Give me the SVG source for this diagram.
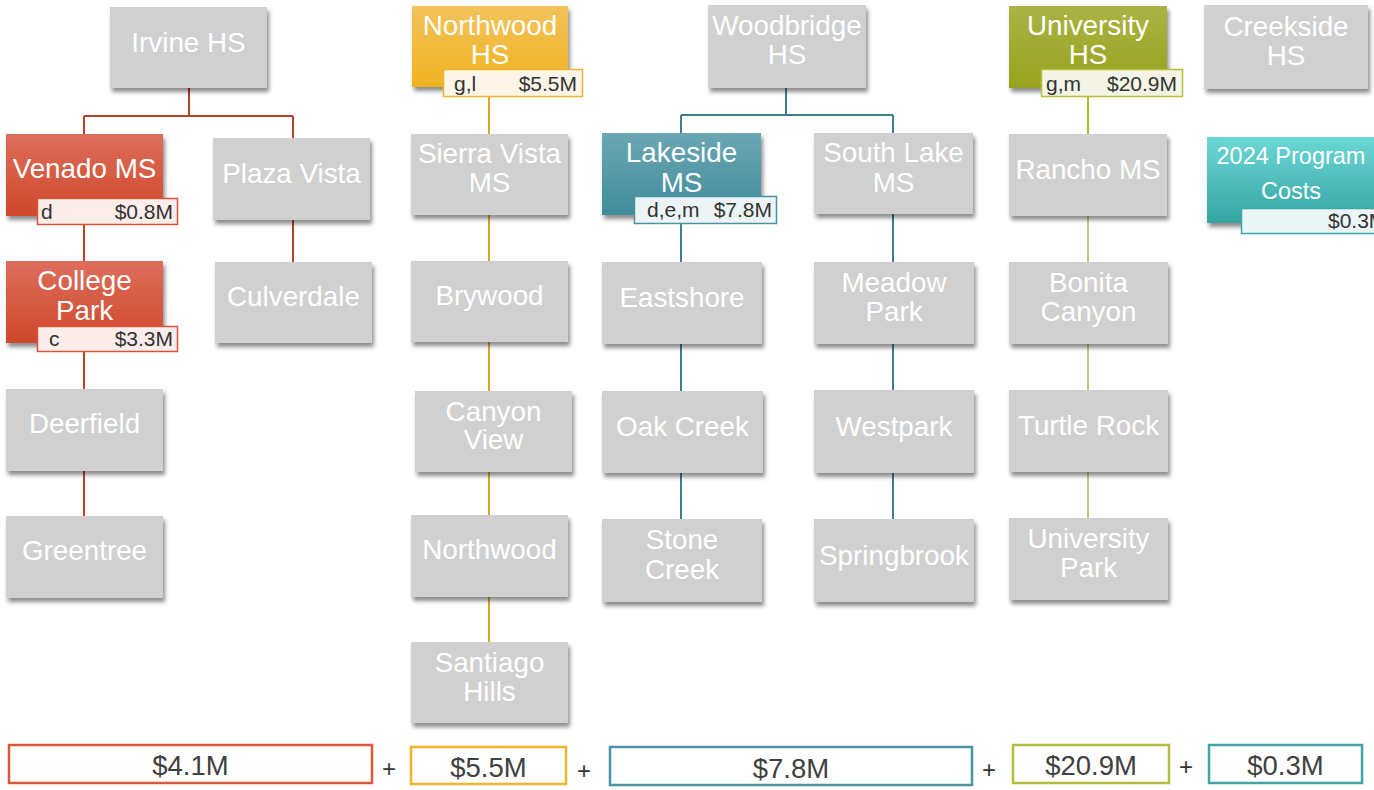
<svg xmlns="http://www.w3.org/2000/svg" width="1374" height="790" viewBox="0 0 1374 790">
<defs>
<filter id="sh" x="-10%" y="-10%" width="125%" height="135%">
<feDropShadow dx="2" dy="4" stdDeviation="2.2" flood-color="#000" flood-opacity="0.45"/>
</filter>
<linearGradient id="gRed" x1="0" y1="0" x2="0" y2="1"><stop offset="0" stop-color="#dd6e5b"/><stop offset="1" stop-color="#cf482b"/></linearGradient>
<linearGradient id="gYel" x1="0" y1="0" x2="0" y2="1"><stop offset="0" stop-color="#f3c25a"/><stop offset="1" stop-color="#f0b321"/></linearGradient>
<linearGradient id="gTeal" x1="0" y1="0" x2="0" y2="1"><stop offset="0" stop-color="#6ba6b3"/><stop offset="1" stop-color="#418c9b"/></linearGradient>
<linearGradient id="gOl" x1="0" y1="0" x2="0" y2="1"><stop offset="0" stop-color="#aab343"/><stop offset="1" stop-color="#97a21e"/></linearGradient>
<linearGradient id="gCy" x1="0" y1="0" x2="0" y2="1"><stop offset="0" stop-color="#6bd8d6"/><stop offset="1" stop-color="#35a4a3"/></linearGradient>
</defs>
<style>
.n{fill:#d0d0d0;filter:url(#sh)}
.t{font-family:"Liberation Sans",Arial,sans-serif;font-size:27.8px;fill:#fff;text-anchor:middle}
.tg{font-family:"Liberation Sans",Arial,sans-serif;font-size:21px;fill:#333}
.r{text-anchor:end}
.tot{font-family:"Liberation Sans",Arial,sans-serif;font-size:27.5px;fill:#404040;text-anchor:middle}
.pl{font-family:"Liberation Sans",Arial,sans-serif;font-size:24px;fill:#333;text-anchor:middle}
.c{fill:none;stroke-width:2}
.box{fill:#fff;stroke-width:2.5}
</style>
<g id="connectors">
<path class="c" stroke="#b5432b" d="M189 88V116M84 116H293M84 116V134M293 116V138M84 216V261M84 343V389M84 471V516M293 220V262"/>
<path class="c" stroke="#d9a62a" d="M489 97V134M489 215V261M489 342V391M489 472V515M489 597V642"/>
<path class="c" stroke="#3f7f8c" d="M786 88V115M681 115H893M681 115V133M893 115V133M681 224V262M681 344V391M681 473V519M893 214V262M893 344V390M893 473V519"/>
<path class="c" stroke="#aab636" d="M1088 97V134"/>
<path class="c" stroke="#c3c889" d="M1088 216V262M1088 344V390M1088 472V518"/>
</g>
<g id="irvine-hs"><rect class="n" x="110" y="7" width="157" height="81"/><text class="t" x="188.5" y="52">Irvine HS</text></g>
<g id="venado-ms"><rect class="n" style="fill:url(#gRed)" x="6" y="134" width="157" height="82"/><text class="t" x="84.5" y="178">Venado MS</text>
<rect x="37.5" y="198.5" width="140" height="26" fill="#faedea" stroke="#d4553a" stroke-width="1.5"/><text class="tg" x="41" y="219">d</text><text class="tg r" x="173" y="219">$0.8M</text></g>
<g id="plaza-vista"><rect class="n" x="213" y="138" width="157" height="82"/><text class="t" x="291.5" y="183">Plaza Vista</text></g>
<g id="college-park"><rect class="n" style="fill:url(#gRed)" x="6" y="261" width="157" height="82"/><text class="t" x="84.5" y="290">College</text><text class="t" x="84.5" y="320">Park</text>
<rect x="37.5" y="326.5" width="140" height="25" fill="#faedea" stroke="#d4553a" stroke-width="1.5"/><text class="tg" x="49" y="346">c</text><text class="tg r" x="173" y="346">$3.3M</text></g>
<g id="culverdale"><rect class="n" x="215" y="262" width="157" height="81"/><text class="t" x="293.5" y="306">Culverdale</text></g>
<g id="deerfield"><rect class="n" x="6" y="389" width="157" height="82"/><text class="t" x="84.5" y="433">Deerfield</text></g>
<g id="greentree"><rect class="n" x="6" y="516" width="157" height="82"/><text class="t" x="84.5" y="560">Greentree</text></g>
<g id="northwood-hs"><rect class="n" style="fill:url(#gYel)" x="412" y="6" width="156" height="81"/><text class="t" x="490" y="35">Northwood</text><text class="t" x="490" y="64">HS</text>
<rect x="443.5" y="69.5" width="139" height="27" fill="#fdf6e8" stroke="#f0b429" stroke-width="1.5"/><text class="tg" x="454" y="91">g,l</text><text class="tg r" x="577" y="91">$5.5M</text></g>
<g id="sierra-vista-ms"><rect class="n" x="411" y="134" width="157" height="81"/><text class="t" x="489.5" y="163">Sierra Vista</text><text class="t" x="489.5" y="192">MS</text></g>
<g id="brywood"><rect class="n" x="411" y="261" width="157" height="81"/><text class="t" x="489.5" y="305">Brywood</text></g>
<g id="canyon-view"><rect class="n" x="415" y="391" width="157" height="81"/><text class="t" x="493.5" y="421">Canyon</text><text class="t" x="493.5" y="449">View</text></g>
<g id="northwood"><rect class="n" x="411" y="515" width="157" height="82"/><text class="t" x="489.5" y="559">Northwood</text></g>
<g id="santiago-hills"><rect class="n" x="411" y="642" width="157" height="81"/><text class="t" x="489.5" y="672">Santiago</text><text class="t" x="489.5" y="701">Hills</text></g>
<g id="woodbridge-hs"><rect class="n" x="708" y="5" width="158" height="83"/><text class="t" x="787" y="35">Woodbridge</text><text class="t" x="787" y="64">HS</text></g>
<g id="lakeside-ms"><rect class="n" style="fill:url(#gTeal)" x="602" y="133" width="159" height="82"/><text class="t" x="681.5" y="162">Lakeside</text><text class="t" x="681.5" y="192">MS</text>
<rect x="634.5" y="196.5" width="142" height="27" fill="#edf4f6" stroke="#4a93a3" stroke-width="1.5"/><text class="tg" x="647" y="217">d,e,m</text><text class="tg r" x="772" y="217">$7.8M</text></g>
<g id="south-lake-ms"><rect class="n" x="814" y="133" width="159" height="81"/><text class="t" x="893.5" y="162">South Lake</text><text class="t" x="893.5" y="192">MS</text></g>
<g id="eastshore"><rect class="n" x="602" y="262" width="160" height="82"/><text class="t" x="682" y="307">Eastshore</text></g>
<g id="oak-creek"><rect class="n" x="602" y="391" width="161" height="82"/><text class="t" x="682.5" y="436">Oak Creek</text></g>
<g id="stone-creek"><rect class="n" x="602" y="519" width="160" height="83"/><text class="t" x="682" y="549">Stone</text><text class="t" x="682" y="579">Creek</text></g>
<g id="meadow-park"><rect class="n" x="814" y="262" width="160" height="82"/><text class="t" x="894" y="292">Meadow</text><text class="t" x="894" y="321">Park</text></g>
<g id="westpark"><rect class="n" x="814" y="390" width="160" height="83"/><text class="t" x="894" y="436">Westpark</text></g>
<g id="springbrook"><rect class="n" x="814" y="519" width="160" height="83"/><text class="t" x="894" y="565">Springbrook</text></g>
<g id="university-hs"><rect class="n" style="fill:url(#gOl)" x="1009" y="6" width="158" height="82"/><text class="t" x="1088" y="35">University</text><text class="t" x="1088" y="64">HS</text>
<rect x="1041.5" y="69.5" width="141" height="27" fill="#f4f5e6" stroke="#b5bf3b" stroke-width="1.5"/><text class="tg" x="1046" y="91">g,m</text><text class="tg r" x="1177" y="91">$20.9M</text></g>
<g id="rancho-ms"><rect class="n" x="1009" y="134" width="158" height="82"/><text class="t" x="1088" y="179">Rancho MS</text></g>
<g id="bonita-canyon"><rect class="n" x="1009" y="262" width="159" height="82"/><text class="t" x="1088.5" y="292">Bonita</text><text class="t" x="1088.5" y="321">Canyon</text></g>
<g id="turtle-rock"><rect class="n" x="1009" y="390" width="159" height="82"/><text class="t" x="1088.5" y="435">Turtle Rock</text></g>
<g id="university-park"><rect class="n" x="1009" y="518" width="159" height="82"/><text class="t" x="1088.5" y="548">University</text><text class="t" x="1088.5" y="577">Park</text></g>
<g id="creekside-hs"><rect class="n" x="1204" y="5" width="164" height="84"/><text class="t" x="1286" y="36">Creekside</text><text class="t" x="1286" y="65">HS</text></g>
<g id="program-costs"><rect class="n" style="fill:url(#gCy)" x="1207" y="137" width="172" height="86"/><text class="t" style="font-size:23.5px" x="1291" y="164">2024 Program</text><text class="t" style="font-size:23.5px" x="1291" y="199">Costs</text>
<rect x="1241.5" y="208.5" width="140" height="25" fill="#eaf6f6" stroke="#3fa6a6" stroke-width="1.5"/><text class="tg" x="1328" y="228">$0.3M</text></g>
<g id="totals">
<rect class="box" stroke="#d9583c" x="9" y="745" width="363" height="38"/><text class="tot" x="190.5" y="775">$4.1M</text>
<text class="pl" x="389" y="777">+</text>
<rect class="box" stroke="#f0b429" x="411" y="747" width="155" height="37"/><text class="tot" x="488.5" y="777">$5.5M</text>
<text class="pl" x="584" y="779">+</text>
<rect class="box" stroke="#4a93a3" x="610" y="747" width="362" height="38"/><text class="tot" x="791" y="778">$7.8M</text>
<text class="pl" x="989" y="778">+</text>
<rect class="box" stroke="#b5bf3b" x="1013" y="745" width="156" height="38"/><text class="tot" x="1091" y="775">$20.9M</text>
<text class="pl" x="1186" y="775">+</text>
<rect class="box" stroke="#3fa6a6" x="1209" y="745" width="153" height="38"/><text class="tot" x="1285.5" y="775">$0.3M</text>
</g>
</svg>
